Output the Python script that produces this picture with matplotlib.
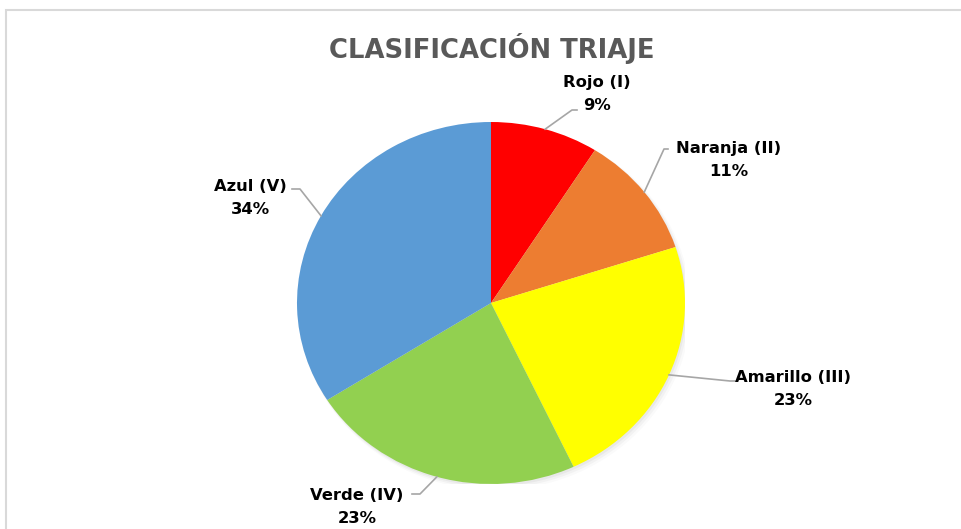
import matplotlib
matplotlib.use("Agg")
import numpy as np
import matplotlib.pyplot as plt
from matplotlib.patches import Rectangle, Ellipse

# data
categories = ["Rojo (I)", "Naranja (II)", "Amarillo (III)", "Verde (IV)", "Azul (V)"]
percents = [9, 11, 23, 23, 34]
colors = ["#FF0000", "#ED7D31", "#FFFF00", "#92D050", "#5B9BD5"]
title = "CLASIFICACIÓN TRIAJE"

# label text anchors (pixels) and leader elbows (pixels)
label_pos = [(597, 94), (729, 160), (793, 389), (357, 507), (250, 198)]
elbows = [(572, 110), (664, 149), (730, 381), (420, 494), (300, 189)]
ends = [(577, 110), (668, 149), (735, 381), (412, 494), (292, 189)]

W, H = 962, 529
fig = plt.figure(figsize=(W / 100, H / 100), dpi=100)
fig.patch.set_facecolor("white")

# chart frame (partly cut off)
fig.patches.append(Rectangle((6 / W, -0.1), 1.2, 1 - 10 / H + 0.1, transform=fig.transFigure,
                             fill=False, edgecolor="#D9D9D9", linewidth=1.5))

# pie axes: ellipse 388 x 362 px centered at (491, 303)
cx, cy, rx, ry = 491, 303, 194, 181
ax = fig.add_axes([(cx - rx) / W, 1 - (cy + ry) / H, 2 * rx / W, 2 * ry / H])
ax.axis("off")

# soft shadow
for i, a in enumerate([0.04, 0.03, 0.02]):
    ax.add_patch(Ellipse((0.008 + 0.006 * i, -0.012 - 0.006 * i), 2.0 + 0.01 * i, 2.0 + 0.01 * i,
                         facecolor="black", alpha=a, edgecolor="none", zorder=0))

wedges, _ = ax.pie(percents, colors=colors, startangle=90, counterclock=False,
                   radius=1, wedgeprops=dict(linewidth=0, zorder=2))
ax.set_xlim(-1, 1)
ax.set_ylim(-1, 1)
ax.set_aspect("auto")

# overlay in pixel coords
ov = fig.add_axes([0, 0, 1, 1])
ov.set_xlim(0, W)
ov.set_ylim(H, 0)
ov.axis("off")
ov.patch.set_alpha(0)

fig.canvas.draw()
inv = ov.transData.inverted()
font = "DejaVu Sans"
for w, cat, p, lp, el, en in zip(wedges, categories, percents, label_pos, elbows, ends):
    mid = np.deg2rad((w.theta1 + w.theta2) / 2)
    disp = ax.transData.transform((np.cos(mid), np.sin(mid)))
    px, py = inv.transform(disp)
    ov.plot([px, el[0], en[0]], [py, el[1], en[1]], color="#A6A6A6", linewidth=1.2)
    ov.text(lp[0], lp[1], f"{cat}\n{p}%", ha="center", va="center", fontsize=11.8,
            fontweight="bold", family=font, color="#000000", linespacing=1.65)

ov.text(492, 49, title, ha="center", va="center", fontsize=18.6, fontweight="bold",
        family=font, color="#595959")

fig.savefig("out.png", dpi=100)
